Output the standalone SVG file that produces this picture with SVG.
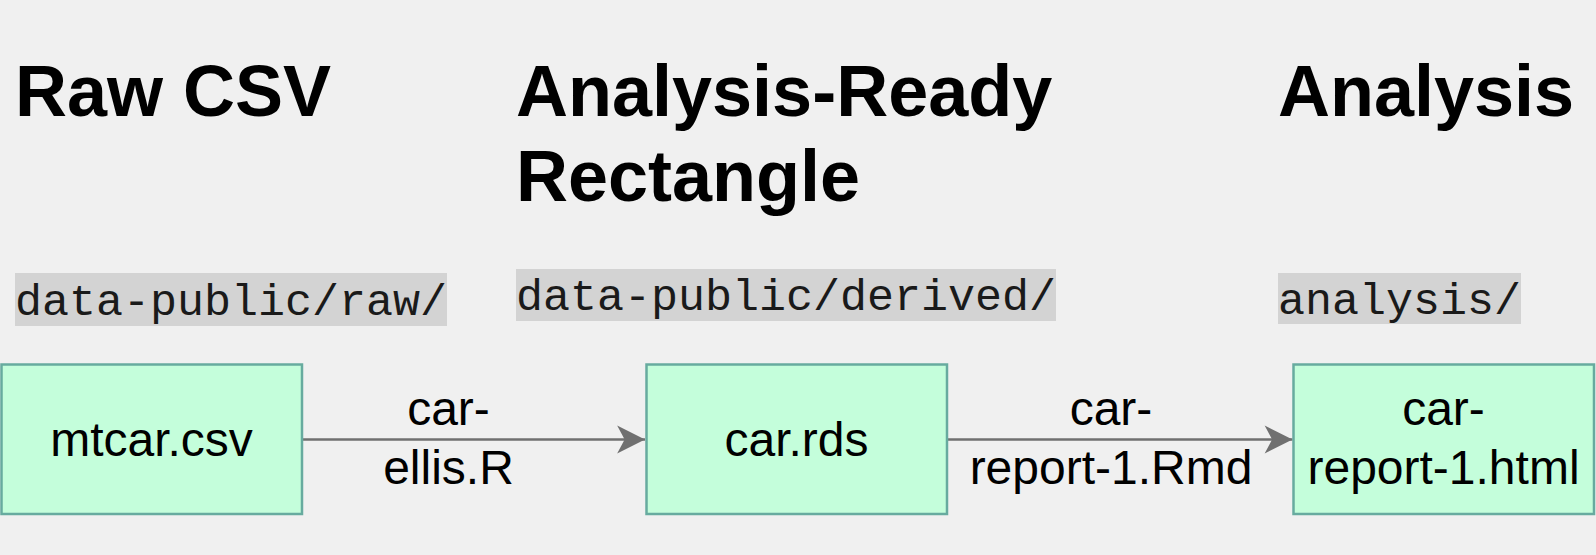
<svg xmlns="http://www.w3.org/2000/svg" width="1596" height="555" viewBox="0 0 1596 555">
  <defs>
    <style>
      .hdr { font-family: "Liberation Sans", Arial, sans-serif; font-weight: bold; font-size: 72px; fill: #000000; }
      .dir { font-family: "Liberation Mono", "Courier New", monospace; font-size: 45px; fill: #1a1a1a; }
      .dirbg { fill: #d3d3d3; }
      .box { fill: #c4fedb; stroke: #67ab9f; stroke-width: 2.5; }
      .lbl { font-family: "Liberation Sans", Arial, sans-serif; font-size: 48px; fill: #000000; text-anchor: middle; }
      .edge { stroke: #707070; stroke-width: 2.5; fill: none; }
    </style>
    <marker id="arrow" markerUnits="userSpaceOnUse" markerWidth="30" markerHeight="30" viewBox="0 0 26 28" refX="26" refY="14" orient="auto">
      <path d="M0,1 L26,14 L0,27 L7,14 Z" fill="#707070"/>
    </marker>
  </defs>
  <rect x="0" y="0" width="1596" height="555" fill="#f0f0f0"/>

  <g id="headers">
    <text class="hdr" x="15" y="116">Raw CSV</text>
    <text class="hdr" x="516" y="116">Analysis-Ready</text>
    <text class="hdr" x="516" y="201">Rectangle</text>
    <text class="hdr" x="1278" y="116">Analysis</text>
  </g>

  <g id="dir-raw">
    <rect class="dirbg" x="15" y="273" width="432" height="53"/>
    <text class="dir" x="15" y="315">data-public/raw/</text>
  </g>
  <g id="dir-derived">
    <rect class="dirbg" x="516" y="269" width="540" height="52"/>
    <text class="dir" x="516" y="310">data-public/derived/</text>
  </g>
  <g id="dir-analysis">
    <rect class="dirbg" x="1278" y="273" width="243" height="51"/>
    <text class="dir" x="1278" y="314">analysis/</text>
  </g>

  <g id="connectors">
    <g id="edge-1">
      <line class="edge" x1="302" y1="439.5" x2="645" y2="439.5" marker-end="url(#arrow)"/>
      <text class="lbl" x="448.5" y="425">car-</text>
      <text class="lbl" x="448.5" y="484">ellis.R</text>
    </g>
    <g id="edge-2">
      <line class="edge" x1="948" y1="439.5" x2="1292.5" y2="439.5" marker-end="url(#arrow)"/>
      <text class="lbl" x="1111" y="425">car-</text>
      <text class="lbl" x="1111" y="484">report-1.Rmd</text>
    </g>
  </g>

  <g id="node-mtcar">
    <rect class="box" x="1.5" y="364.5" width="300.5" height="149.5"/>
    <text class="lbl" x="151.5" y="456">mtcar.csv</text>
  </g>
  <g id="node-carrds">
    <rect class="box" x="646.5" y="364.5" width="300.5" height="149.5"/>
    <text class="lbl" x="796.5" y="456">car.rds</text>
  </g>
  <g id="node-report">
    <rect class="box" x="1293.5" y="364.5" width="300.5" height="149.5"/>
    <text class="lbl" x="1443.5" y="425">car-</text>
    <text class="lbl" x="1443.5" y="484">report-1.html</text>
  </g>
</svg>
